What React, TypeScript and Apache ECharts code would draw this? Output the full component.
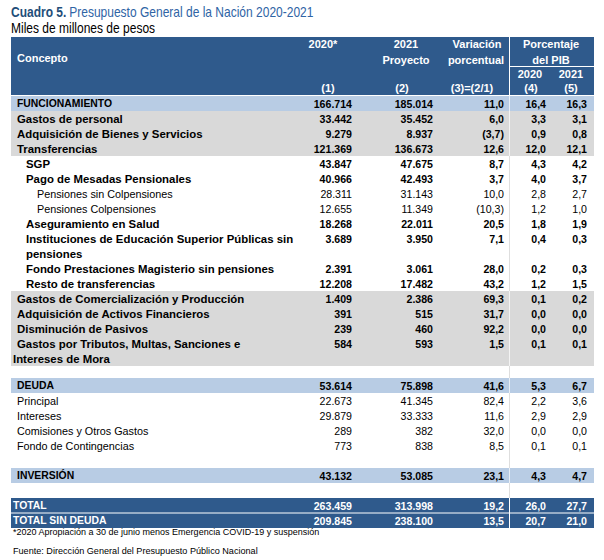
import React, { useEffect, useRef } from "react";
import * as echarts from "echarts";

// ---------- data ----------
const concepts = [
  "FUNCIONAMIENTO",
  "Gastos de personal",
  "Adquisición de Bienes y Servicios",
  "Transferencias",
  "SGP",
  "Pago de Mesadas Pensionales",
  "Pensiones sin Colpensiones",
  "Pensiones Colpensiones",
  "Aseguramiento en Salud",
  "Instituciones de Educación Superior Públicas sin",
  "Fondo Prestaciones Magisterio sin pensiones",
  "Resto de transferencias",
  "Gastos de Comercialización y Producción",
  "Adquisición de Activos Financieros",
  "Disminución de Pasivos",
  "Gastos por Tributos, Multas, Sanciones e",
  "DEUDA",
  "Principal",
  "Intereses",
  "Comisiones y Otros Gastos",
  "Fondo de Contingencias",
  "INVERSIÓN",
  "TOTAL",
  "TOTAL SIN DEUDA",
];
const conceptsLine2 = ["", "", "", "", "", "", "", "", "", "pensiones", "", "", "", "", "", "Intereses de Mora", "", "", "", "", "", "", "", ""];
const values2020 = [166714, 33442, 9279, 121369, 43847, 40966, 28311, 12655, 18268, 3689, 2391, 12208, 1409, 391, 239, 584, 53614, 22673, 29879, 289, 773, 43132, 263459, 209845];
const values2021 = [185014, 35452, 8937, 136673, 47675, 42493, 31143, 11349, 22011, 3950, 3061, 17482, 2386, 515, 460, 593, 75898, 41345, 33333, 382, 838, 53085, 313998, 238100];
const variation = [11.0, 6.0, -3.7, 12.6, 8.7, 3.7, 10.0, -10.3, 20.5, 7.1, 28.0, 43.2, 69.3, 31.7, 92.2, 1.5, 41.6, 82.4, 11.6, 32.0, 8.5, 23.1, 19.2, 13.5];
const pib2020 = [16.4, 3.3, 0.9, 12.0, 4.3, 4.0, 2.8, 1.2, 1.8, 0.4, 0.2, 1.2, 0.1, 0.0, 0.0, 0.1, 5.3, 2.2, 2.9, 0.0, 0.1, 4.3, 26.0, 20.7];
const pib2021 = [16.3, 3.1, 0.8, 12.1, 4.2, 3.7, 2.7, 1.0, 1.9, 0.3, 0.3, 1.5, 0.2, 0.0, 0.0, 0.1, 6.7, 3.6, 2.9, 0.0, 0.1, 4.7, 27.7, 21.0];

const titleBold = "Cuadro 5.";
const titleRest = "Presupuesto General de la Nación 2020-2021";
const subtitle = "Miles de millones de pesos";
const footnote = "*2020 Apropiación a 30 de junio menos Emergencia COVID-19 y suspensión";
const source = "Fuente: Dirección General del Presupuesto Público Nacional";

// ---------- layout / style (not data) ----------
const rowSlot = [0, 1, 2, 3, 4, 5, 6, 7, 8, 9, 11, 12, 13, 14, 15, 16, 18.8, 19.8, 20.8, 21.8, 22.8, 24.8, 26.8, 27.8];
const rowLines = concepts.map((_, i) => (conceptsLine2[i] ? 2 : 1));
const rowKind = ["blue", "gray", "gray", "gray", "bold", "bold", "plain", "plain", "bold", "bold", "bold", "bold", "gray", "gray", "gray", "gray", "blue", "plain", "plain", "plain", "plain", "blue", "total", "total"];
const indent = [17, 17, 17, 17, 26, 26, 37, 37, 26, 26, 26, 26, 17, 17, 17, 17, 17, 17, 17, 17, 17, 17, 13, 13];
const indent2 = [0, 0, 0, 0, 0, 0, 0, 0, 0, 26, 0, 0, 0, 0, 0, 13, 0, 0, 0, 0, 0, 0, 0, 0];
const colRight = [352, 433, 504, 546, 587];
const TABLE_L = 11;
const TABLE_R = 594;
const SEP_X = 509.5;
const BODY_TOP = 96;
const SLOT_H = 15;
const SLOTS = 28.8;
const NARROW_SCALE = 0.858;

const FF = '"Liberation Sans", Arial, Helvetica, sans-serif';
const HEADER_BLUE = "#2f5a8c";
const LIGHT_BLUE = "#b8cce4";
const GRAY = "#d9d9d9";

const fmtInt = (n: number) => String(n).replace(/\B(?=(\d{3})+(?!\d))/g, ".");
const fmtDec = (x: number) => {
  const s = Math.abs(x).toFixed(1).replace(".", ",");
  return x < 0 ? `(${s})` : s;
};

function txt(text: string, x: number, y: number, font: string, fill: string, align: string) {
  return {
    type: "text",
    style: {
      text,
      x,
      y,
      font,
      fill,
      align,
      textAlign: align,
      verticalAlign: "middle",
      textVerticalAlign: "middle",
    },
  };
}

export default function App() {
  const ref = useRef<HTMLDivElement>(null);

  useEffect(() => {
    if (!ref.current) return;
    const chart = echarts.init(ref.current, null, { renderer: "svg" });

    const headerFont = `bold 11px ${FF}`;
    const headerTexts: any[] = [
      txt("Concepto", 17, 58, headerFont, "#fff", "left"),
      txt("2020*", 323, 44, headerFont, "#fff", "center"),
      txt("2021", 406, 44, headerFont, "#fff", "center"),
      txt("Proyecto", 406, 60, headerFont, "#fff", "center"),
      txt("Variación", 477, 44, headerFont, "#fff", "center"),
      txt("porcentual", 476, 60, headerFont, "#fff", "center"),
      txt("Porcentaje", 551, 44, headerFont, "#fff", "center"),
      txt("del PIB", 551, 60, headerFont, "#fff", "center"),
      txt("2020", 530, 74, headerFont, "#fff", "center"),
      txt("2021", 571, 74, headerFont, "#fff", "center"),
      txt("(1)", 328, 88, headerFont, "#fff", "center"),
      txt("(2)", 402, 88, headerFont, "#fff", "center"),
      txt("(3)=(2/1)", 472, 88, headerFont, "#fff", "center"),
      txt("(4)", 531, 88, headerFont, "#fff", "center"),
      txt("(5)", 571, 88, headerFont, "#fff", "center"),
    ];

    const option: any = {
      animation: false,
      grid: { left: 0, right: 0, top: BODY_TOP, height: SLOTS * SLOT_H },
      xAxis: { type: "value", min: 0, max: 1, show: false },
      yAxis: { type: "value", min: 0, max: SLOTS, inverse: true, show: false },
      graphic: [
        {
          type: "text",
          z: 10,
          x: 11,
          y: 12,
          scaleX: NARROW_SCALE,
          style: {
            text: `{a|${titleBold}} {b|${titleRest}}`,
            x: 0,
            y: 0,
            verticalAlign: "middle",
            textVerticalAlign: "middle",
            rich: {
              a: { font: `bold 14px ${FF}`, fill: "#1f4e79", color: "#1f4e79" },
              b: { font: `14px ${FF}`, fill: "#2f64a5", color: "#2f64a5" },
            },
          },
        },
        {
          type: "text",
          z: 10,
          x: 11,
          y: 28,
          scaleX: NARROW_SCALE,
          style: {
            text: subtitle,
            x: 0,
            y: 0,
            font: `14px ${FF}`,
            fill: "#000",
            verticalAlign: "middle",
            textVerticalAlign: "middle",
          },
        },
        {
          type: "rect",
          z: 5,
          shape: { x: TABLE_L, y: 37, width: TABLE_R - TABLE_L, height: 58 },
          style: { fill: HEADER_BLUE },
        },
        { type: "line", z: 6, shape: { x1: SEP_X, y1: 37, x2: SEP_X, y2: 95 }, style: { stroke: "#fff", lineWidth: 1 } },
        { type: "line", z: 6, shape: { x1: SEP_X, y1: 66.5, x2: TABLE_R, y2: 66.5 }, style: { stroke: "#fff", lineWidth: 1 } },
        ...headerTexts.map((t) => ({ ...t, z: 7 })),
        {
          type: "line",
          z: 0,
          shape: { x1: SEP_X, y1: BODY_TOP, x2: SEP_X, y2: BODY_TOP + SLOTS * SLOT_H },
          style: { stroke: "#dedede", lineWidth: 1 },
        },
        { ...txt(footnote, 13, 532, `9px ${FF}`, "#000", "left"), z: 10 },
        { ...txt(source, 13, 551, `9.1px ${FF}`, "#000", "left"), z: 10 },
      ],
      series: [
        {
          type: "custom",
          coordinateSystem: "cartesian2d",
          z: 3,
          encode: { x: 0, y: 1 },
          data: concepts.map((_, i) => [0, rowSlot[i], i]),
          renderItem: (params: any, api: any) => {
            const i = api.value(2) as number;
            const top = api.coord([0, api.value(1)])[1];
            const h = api.size([0, rowLines[i]])[1];
            const lineH = api.size([0, 1])[1];
            const kind = rowKind[i];
            const yc = top + lineH / 2;
            const children: any[] = [];
            let bg: string | null = null;
            if (kind === "blue") bg = LIGHT_BLUE;
            else if (kind === "gray") bg = GRAY;
            else if (kind === "total") bg = HEADER_BLUE;
            if (bg) {
              children.push({
                type: "rect",
                shape: { x: TABLE_L, y: top, width: TABLE_R - TABLE_L, height: h },
                style: { fill: bg },
              });
              children.push({
                type: "line",
                shape: { x1: SEP_X, y1: top, x2: SEP_X, y2: top + h },
                style: { stroke: "#fff", lineWidth: 1, opacity: kind === "total" ? 1 : 0.7 },
              });
            }
            if (kind === "total" && i === concepts.length - 1) {
              children.push({
                type: "line",
                shape: { x1: TABLE_L, y1: top, x2: TABLE_R, y2: top },
                style: { stroke: "#fff", lineWidth: 1 },
              });
            }
            const isBold = kind !== "plain";
            const upper = kind === "blue" || kind === "total";
            const color = kind === "total" ? "#fff" : "#000";
            const labelFont = upper
              ? `bold 10.4px ${FF}`
              : isBold
              ? `bold 11.4px ${FF}`
              : `10.8px ${FF}`;
            const numFont = isBold ? `bold 10.6px ${FF}` : `10.6px ${FF}`;
            children.push(txt(concepts[i], indent[i], yc, labelFont, color, "left"));
            if (conceptsLine2[i]) {
              children.push(txt(conceptsLine2[i], indent2[i], yc + lineH, labelFont, color, "left"));
            }
            const cells = [
              fmtInt(values2020[i]),
              fmtInt(values2021[i]),
              fmtDec(variation[i]),
              fmtDec(pib2020[i]),
              fmtDec(pib2021[i]),
            ];
            cells.forEach((c, k) => children.push(txt(c, colRight[k], yc, numFont, color, "right")));
            return { type: "group", children };
          },
        },
      ],
    };

    chart.setOption(option);
    return () => chart.dispose();
  }, []);

  return (
    <div
      ref={ref}
      style={{ position: "fixed", left: 0, top: 0, width: 604, height: 560, background: "#fff" }}
    />
  );
}
